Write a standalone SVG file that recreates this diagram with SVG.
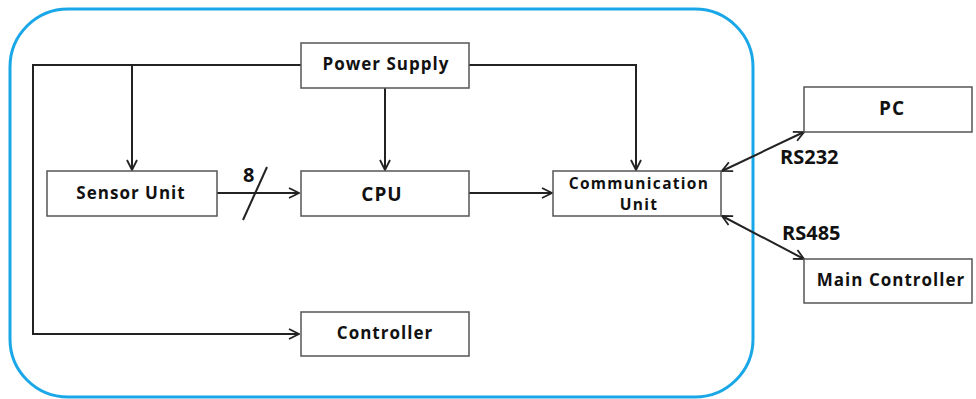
<svg xmlns="http://www.w3.org/2000/svg" width="976" height="399" viewBox="0 0 976 399">
<defs>
<marker id="arr" viewBox="0 0 12 12" refX="11" refY="6" markerWidth="12" markerHeight="12" markerUnits="userSpaceOnUse" orient="auto-start-reverse">
<polyline points="1,1 11,6 1,11" fill="none" stroke="#222" stroke-width="1.8"/>
</marker>
</defs>
<style>
.box{fill:#fff;stroke:#555;stroke-width:1.5}
.t{font-family:"Open Sans","Noto Sans",sans-serif;font-weight:bold;font-size:17px;letter-spacing:1px;fill:#111;text-anchor:middle}
.lbl{font-family:"Open Sans","Noto Sans",sans-serif;font-weight:bold;font-size:20px;fill:#111}
.ln{fill:none;stroke:#222;stroke-width:2}
</style>
<rect x="10" y="9" width="743" height="388" rx="58" ry="58" fill="none" stroke="#1aa7e8" stroke-width="3"/>
<g id="connectors">
<polyline class="ln" points="301,65 33,65 33,334 299,334" marker-end="url(#arr)"/>
<line class="ln" x1="132" y1="65" x2="132" y2="170" marker-end="url(#arr)"/>
<line class="ln" x1="385" y1="88" x2="385" y2="170" marker-end="url(#arr)"/>
<polyline class="ln" points="469,65 636,65 636,170" marker-end="url(#arr)"/>
<line class="ln" x1="217" y1="193" x2="299" y2="193" marker-end="url(#arr)"/>
<line class="ln" x1="469" y1="193" x2="552" y2="193" marker-end="url(#arr)"/>
<line class="ln" x1="267" y1="167" x2="243" y2="220"/>
<text class="lbl" x="243" y="182">8</text>
<line class="ln" x1="722" y1="171" x2="804" y2="132" marker-start="url(#arr)" marker-end="url(#arr)"/>
<text class="lbl" x="780" y="164">RS232</text>
<line class="ln" x1="722" y1="216" x2="804" y2="259" marker-start="url(#arr)" marker-end="url(#arr)"/>
<text class="lbl" x="782" y="240">RS485</text>
</g>
<g id="power"><rect class="box" x="301" y="43" width="168" height="45"/><text class="t" x="386" y="70">Power Supply</text></g>
<g id="sensor"><rect class="box" x="47" y="171" width="170" height="45"/><text class="t" x="131" y="199">Sensor Unit</text></g>
<g id="cpu"><rect class="box" x="301" y="171" width="168" height="45"/><text class="t" x="382" y="201" style="font-size:19px">CPU</text></g>
<g id="comm"><rect class="box" x="553" y="171" width="168" height="45"/><text class="t" x="639" y="189" style="font-size:15.5px;letter-spacing:1.3px">Communication</text><text class="t" x="639" y="210" style="font-size:15.5px;letter-spacing:1.3px">Unit</text></g>
<g id="controller"><rect class="box" x="301" y="312" width="168" height="44"/><text class="t" x="385" y="339">Controller</text></g>
<g id="pc"><rect class="box" x="804" y="87" width="168" height="45"/><text class="t" x="892" y="115" style="font-size:19px">PC</text></g>
<g id="main"><rect class="box" x="804" y="259" width="168" height="44"/><text class="t" x="891" y="286">Main Controller</text></g>
</svg>
